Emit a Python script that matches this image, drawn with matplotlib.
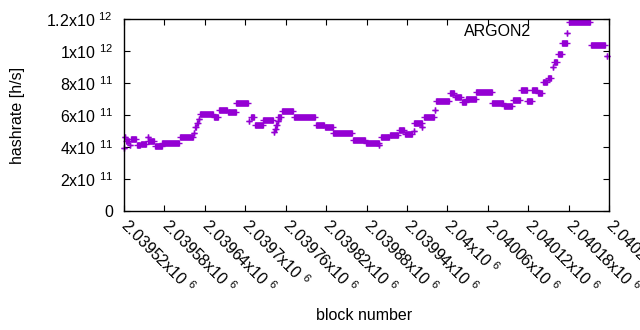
import numpy as np
import matplotlib
matplotlib.use('Agg')
import matplotlib.pyplot as plt

plt.rcParams.update({'font.family': ['Liberation Sans', 'DejaVu Sans'], 'font.size': 11.5,
                     'mathtext.default': 'regular'})

block0 = 2039520
# runs of equal hashrate: first block offset, last block offset, hashrate (x1e11 h/s)
seg_start = [0, 1, 3, 9, 10, 19, 25, 35, 36, 46, 57, 83, 104, 105, 108, 111, 113, 133, 141, 154,
             167, 186, 188, 194, 207, 222, 224, 226, 228, 229, 234, 252, 285, 298, 311, 340, 359,
             379, 382, 395, 408, 417, 430, 431, 443, 445, 462, 463, 484, 491, 502, 508, 523, 547,
             564, 577, 589, 599, 606, 614, 622, 629, 637, 639, 644, 650, 658, 660, 693, 717]
seg_end = [0, 1, 7, 9, 18, 24, 33, 35, 45, 56, 82, 102, 104, 107, 110, 111, 132, 140, 153, 166,
           184, 186, 193, 206, 221, 223, 225, 227, 228, 233, 251, 284, 297, 310, 339, 358, 378,
           379, 394, 407, 416, 428, 430, 442, 443, 460, 462, 482, 490, 501, 507, 522, 546, 563,
           576, 588, 598, 605, 613, 621, 628, 634, 637, 643, 650, 657, 658, 692, 714, 717]
seg_val = [3.95, 4.6, 4.4, 4.1, 4.53, 4.1, 4.2, 4.6, 4.4, 4.06, 4.25, 4.6, 4.9, 5.25, 5.5, 5.75,
           6.05, 5.85, 6.3, 6.2, 6.75, 5.6, 5.9, 5.4, 5.7, 4.95, 5.15, 5.4, 5.6, 5.9, 6.25, 5.85,
           5.35, 5.25, 4.87, 4.43, 4.27, 4.1, 4.6, 4.75, 5.05, 4.8, 5.0, 5.5, 5.25, 5.9, 6.3, 6.9,
           7.4, 7.15, 6.8, 7.0, 7.45, 6.75, 6.55, 6.95, 7.55, 6.85, 7.55, 7.35, 8.05, 8.3, 9.0,
           9.3, 9.8, 10.5, 11.1, 11.8, 10.4, 9.7]

xticks = [2039520 + 60 * k for k in range(13)]
xtick_labels = ['2.03952', '2.03958', '2.03964', '2.0397', '2.03976', '2.03982', '2.03988',
                '2.03994', '2.04', '2.04006', '2.04012', '2.04018', '2.04024']
yticks = [0, 2e11, 4e11, 6e11, 8e11, 1e12, 1.2e12]
ytick_labels = ['0', '2x10 $^{11}$', '4x10 $^{11}$', '6x10 $^{11}$', '8x10 $^{11}$',
                '1x10 $^{12}$', '1.2x10 $^{12}$']

color = '#9400D3'
starts = block0 + np.array(seg_start)
ends = block0 + np.array(seg_end)
vals = np.array(seg_val) * 1e11

fig = plt.figure(figsize=(6.4, 3.3), dpi=100)
ax = fig.add_axes([124/640, 1 - 211/330, 485/640, 192/330])

ax.hlines(vals, starts, ends, colors=color, linewidth=4.8, clip_on=False)
ax.plot(starts, vals, '+', color=color, markersize=5, markeredgewidth=1.0, clip_on=False)
ax.plot(ends, vals, '+', color=color, markersize=5, markeredgewidth=1.0, clip_on=False)

ax.set_xlim(2039520, 2040240)
ax.set_ylim(0, 1.2e12)
ax.set_xticks(xticks)
ax.set_xticklabels([s + 'x10 $^{6}$' for s in xtick_labels], rotation=-45, ha='left',
                   va='center', rotation_mode='anchor')
ax.set_yticks(yticks)
ax.set_yticklabels(ytick_labels)
ax.tick_params(direction='in', length=4, width=0.8, top=True, right=True, labelsize=11.5)
ax.tick_params(axis='x', pad=8)
ax.tick_params(axis='y', pad=8)
for s in ax.spines.values():
    s.set_linewidth(1.0)

fig.text(18/640, 1 - 115/330, 'hashrate [h/s]', rotation=90, ha='center', va='center')
fig.text(364/640, 1 - 315/330, 'block number', ha='center', va='center')
fig.text(498/640, 1 - 31/330, 'ARGON2', ha='center', va='center')

fig.savefig('out.png', dpi=100)
